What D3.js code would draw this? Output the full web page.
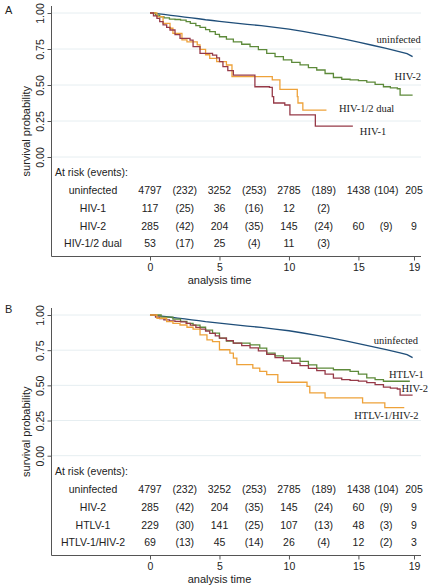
<!DOCTYPE html>
<html><head><meta charset="utf-8">
<script src="https://cdn.jsdelivr.net/npm/d3@7"></script>
<style>
body{margin:0;background:#fff;}
svg{display:block;}
text{font-family:"Liberation Sans",Arial,sans-serif;fill:#222;}
.serif{font-family:"Liberation Serif","Times New Roman",serif;}
</style>
</head><body>
<svg id="c" width="430" height="588"></svg>
<script>
// ---------- data ----------
const yTicks = [0, 0.25, 0.5, 0.75, 1];
const yTickLabels = ["0.00", "0.25", "0.50", "0.75", "1.00"];
const xTicks = [0, 5, 10, 15, 19];
const riskTimes = [0, 2.5, 5, 7.5, 10, 12.5, 15, 17, 19];

const uninfectedT = [0, 0.5, 1, 1.5, 2, 2.5, 3, 3.5, 4, 4.5, 5, 6, 7, 8, 9, 10, 11, 12, 13, 14, 15, 16, 17, 18, 18.5, 18.9];
const uninfectedS = [1, 0.995, 0.99, 0.984, 0.978, 0.972, 0.966, 0.96, 0.953, 0.948, 0.942, 0.931, 0.921, 0.912, 0.9, 0.888, 0.872, 0.855, 0.838, 0.818, 0.797, 0.776, 0.754, 0.73, 0.718, 0.697];

const hiv1T = [0, 0.25, 0.5, 0.7, 0.94, 1.2, 1.44, 1.8, 2.16, 2.88, 3.1, 3.6, 4.5, 4.8, 5.0, 5.25, 5.6, 6.0, 7.55, 8.6, 8.8, 8.9, 9.7, 10.07, 11.9, 14.6];
const hiv1S = [1, 0.98, 0.963, 0.94, 0.917, 0.9, 0.882, 0.85, 0.824, 0.812, 0.766, 0.72, 0.708, 0.688, 0.662, 0.627, 0.6, 0.569, 0.488, 0.484, 0.419, 0.375, 0.361, 0.292, 0.215, 0.215];

const hiv2T = [0, 0.4, 0.7, 1.0, 1.4, 1.8, 2.2, 2.6, 2.9, 3.3, 3.6, 4.0, 4.3, 4.7, 5.0, 5.5, 6.0, 6.6, 7.2, 7.8, 8.4, 9.0, 9.6, 10.2, 10.8, 11.4, 12.0, 12.6, 13.2, 13.8, 14.4, 15.0, 15.6, 16.2, 16.8, 17.3, 17.8, 18.0, 18.9];
const hiv2S = [1, 0.985, 0.974, 0.966, 0.958, 0.955, 0.951, 0.94, 0.928, 0.912, 0.9, 0.885, 0.87, 0.852, 0.835, 0.818, 0.8, 0.783, 0.766, 0.745, 0.72, 0.697, 0.674, 0.657, 0.64, 0.62, 0.604, 0.58, 0.552, 0.54, 0.535, 0.53, 0.52, 0.505, 0.488, 0.48, 0.474, 0.43, 0.43];

const dualT = [0, 0.5, 0.94, 1.44, 1.65, 2.3, 2.66, 3.4, 3.6, 4.0, 4.3, 4.8, 5.5, 5.9, 8.8, 9.35, 10.6, 10.65, 11.0, 12.7];
const dualS = [1, 0.975, 0.928, 0.894, 0.859, 0.813, 0.8, 0.778, 0.748, 0.71, 0.685, 0.662, 0.639, 0.558, 0.535, 0.47, 0.419, 0.375, 0.326, 0.326];

const htlv1T = [0, 0.8, 1.65, 2.2, 2.66, 3.1, 3.6, 4.0, 4.5, 5.0, 5.5, 6.0, 7.2, 7.9, 8.4, 9.0, 9.6, 10.8, 11.4, 12.0, 13.2, 14.4, 15.0, 15.6, 16.2, 16.8, 18.7];
const htlv1S = [1, 0.985, 0.97, 0.955, 0.941, 0.928, 0.913, 0.893, 0.871, 0.835, 0.815, 0.8, 0.788, 0.765, 0.729, 0.71, 0.694, 0.671, 0.645, 0.623, 0.611, 0.6, 0.58, 0.553, 0.54, 0.529, 0.529];

const coT = [0, 0.5, 1.2, 1.65, 2.16, 2.66, 3.1, 3.6, 4.1, 4.5, 5.0, 5.75, 6.0, 6.25, 7.4, 7.9, 8.4, 9.2, 11.3, 11.5, 12.6, 15.3, 16.9, 18.3];
const coS = [1, 0.977, 0.953, 0.941, 0.929, 0.913, 0.899, 0.859, 0.823, 0.811, 0.753, 0.729, 0.694, 0.647, 0.623, 0.6, 0.576, 0.522, 0.493, 0.447, 0.411, 0.376, 0.341, 0.341];

const riskUninfected = ["4797", "(232)", "3252", "(253)", "2785", "(189)", "1438", "(104)", "205"];
const riskHIV1 = ["117", "(25)", "36", "(16)", "12", "(2)"];
const riskHIV2 = ["285", "(42)", "204", "(35)", "145", "(24)", "60", "(9)", "9"];
const riskDual = ["53", "(17)", "25", "(4)", "11", "(3)"];
const riskHTLV1 = ["229", "(30)", "141", "(25)", "107", "(13)", "48", "(3)", "9"];
const riskCo = ["69", "(13)", "45", "(14)", "26", "(4)", "12", "(2)", "3"];

// ---------- styles ----------
const C = {navy: "#1f4e79", maroon: "#963a48", green: "#5d8a3a", orange: "#eea23a"};

const panels = [
  {
    letter: "A", off: 0, yr: [157, 13],
    curves: [
      {t: uninfectedT, s: uninfectedS, color: C.navy, smooth: true},
      {t: hiv2T, s: hiv2S, color: C.green},
      {t: dualT, s: dualS, color: C.orange},
      {t: hiv1T, s: hiv1S, color: C.maroon}
    ],
    labels: [
      {text: "uninfected", lx: 16.3, ly: 0.793},
      {text: "HIV-2", lx: 17.6, ly: 0.535},
      {text: "HIV-1/2 dual", lx: 13.6, ly: 0.31},
      {text: "HIV-1", lx: 15.1, ly: 0.152}
    ],
    rows: [
      {name: "uninfected", vals: riskUninfected},
      {name: "HIV-1", vals: riskHIV1},
      {name: "HIV-2", vals: riskHIV2},
      {name: "HIV-1/2 dual", vals: riskDual}
    ]
  },
  {
    letter: "B", off: 299, yr: [156.7, 16],
    curves: [
      {t: uninfectedT, s: uninfectedS, color: C.navy, smooth: true},
      {t: htlv1T, s: htlv1S, color: C.green},
      {t: hiv2T, s: hiv2S, color: C.maroon},
      {t: coT, s: coS, color: C.orange}
    ],
    labels: [
      {text: "uninfected", lx: 16.1, ly: 0.795},
      {text: "HTLV-1", lx: 17.2, ly: 0.55},
      {text: "HIV-2", lx: 18.1, ly: 0.455},
      {text: "HTLV-1/HIV-2", lx: 14.7, ly: 0.26}
    ],
    rows: [
      {name: "uninfected", vals: riskUninfected},
      {name: "HIV-2", vals: riskHIV2},
      {name: "HTLV-1", vals: riskHTLV1},
      {name: "HTLV-1/HIV-2", vals: riskCo}
    ]
  }
];

const svg = d3.select("#c");
const x = d3.scaleLinear().domain([0, 19]).range([150, 414]);

panels.forEach(p => {
  const o = p.off;
  const g = svg.append("g").attr("transform", `translate(0,${o})`);
  const y = d3.scaleLinear().domain([0, 1]).range(p.yr);
  const axTop = p.yr[1] - 7;

  // panel letter
  g.append("text").attr("x", 5).attr("y", 14).style("font-size", "11px").text(p.letter);

  // gridlines
  g.selectAll("line.grid").data(yTicks).join("line")
    .attr("x1", 52).attr("x2", 421)
    .attr("y1", d => y(d)).attr("y2", d => y(d))
    .attr("stroke", "#e6eef1").attr("stroke-width", 1);

  // y axis
  const yAxis = d3.axisLeft(y).tickValues(yTicks).tickSize(4).tickFormat((d, i) => yTickLabels[i]);
  const ya = g.append("g").attr("transform", "translate(51.5,0)").call(yAxis);
  ya.select(".domain").remove();
  ya.selectAll(".tick line").attr("stroke", "#555");
  ya.selectAll(".tick text")
    .attr("x", 0).attr("dy", 0)
    .attr("transform", "translate(-7.5,0) rotate(-90)")
    .attr("text-anchor", "middle")
    .attr("fill", "#222")
    .style("font-size", "10.5px")
    .style("font-family", "'Liberation Sans',Arial,sans-serif");
  g.append("line").attr("x1", 51.5).attr("x2", 51.5).attr("y1", axTop).attr("y2", 256.5).attr("stroke", "#555");

  // y axis title
  g.append("text")
    .attr("transform", `translate(30,${(axTop + 256.5) / 2}) rotate(-90)`)
    .attr("text-anchor", "middle").style("font-size", "11px")
    .text("survival probability");

  // x axis
  const xAxis = d3.axisBottom(x).tickValues(xTicks).tickSize(4).tickPadding(3);
  const xa = g.append("g").attr("transform", "translate(0,256.5)").call(xAxis);
  xa.select(".domain").remove();
  xa.selectAll(".tick line").attr("stroke", "#555");
  xa.selectAll(".tick text").attr("fill", "#222").style("font-size", "10.5px")
    .style("font-family", "'Liberation Sans',Arial,sans-serif");
  g.append("line").attr("x1", 51.5).attr("x2", 421).attr("y1", 256.5).attr("y2", 256.5).attr("stroke", "#555");
  g.append("text").attr("x", x(5)).attr("y", 284).attr("text-anchor", "middle")
    .style("font-size", "11px").text("analysis time");

  // curves
  p.curves.forEach(c => {
    const line = d3.line().x(d => x(d[0])).y(d => y(d[1]))
      .curve(c.smooth ? d3.curveLinear : d3.curveStepAfter);
    const pts = c.t.map((t, i) => [t, c.s[i]]);
    g.append("path").datum(pts).attr("d", line)
      .attr("fill", "none").attr("stroke", c.color).attr("stroke-width", 1.3);
  });

  // curve labels
  p.labels.forEach(l => {
    g.append("text").attr("class", "serif")
      .attr("x", x(l.lx)).attr("y", y(l.ly))
      .style("font-size", "10.5px").text(l.text);
  });

  // at-risk table
  g.append("text").attr("x", 55).attr("y", 176).style("font-size", "10.5px").text("At risk (events):");
  const rowY = [194, 212, 230, 247];
  p.rows.forEach((r, ri) => {
    g.append("text").attr("x", 93).attr("y", rowY[ri]).attr("text-anchor", "middle")
      .style("font-size", "10.5px").text(r.name);
    g.selectAll(null).data(r.vals).join("text")
      .attr("x", (d, i) => x(riskTimes[i])).attr("y", rowY[ri])
      .attr("text-anchor", "middle").style("font-size", "10.5px")
      .text(d => d);
  });
});
</script>
</body></html>
